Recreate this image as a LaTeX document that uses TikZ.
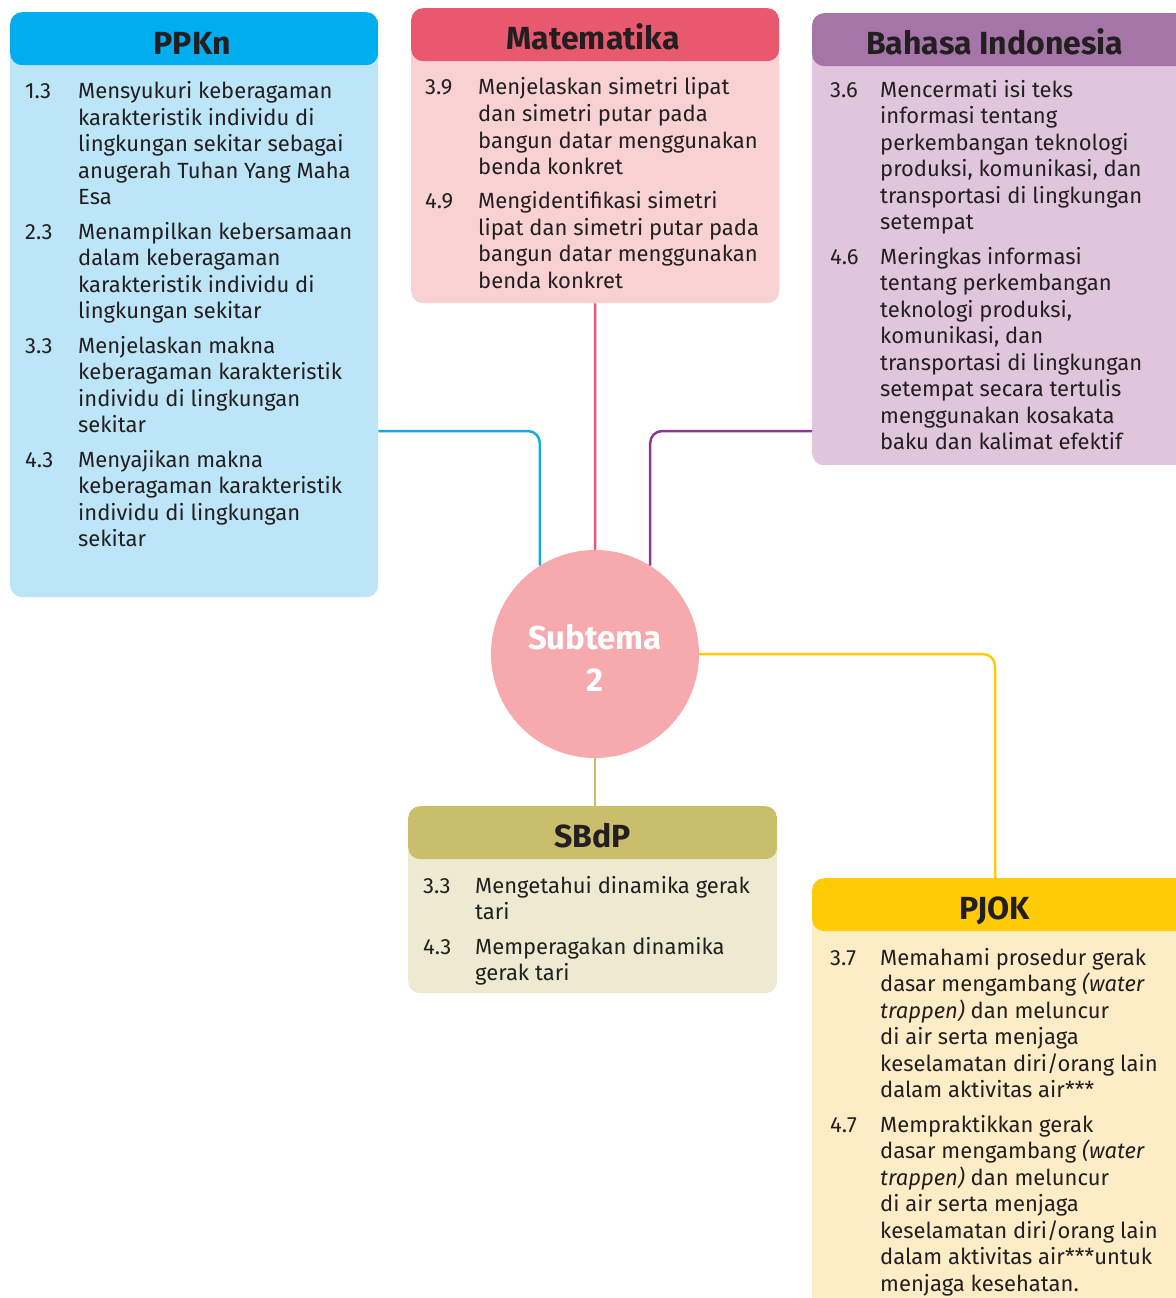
\documentclass[tikz,border=0pt]{standalone}
\usepackage{fontspec}
\setmainfont{Fira Sans}
\usetikzlibrary{positioning}

\definecolor{txt}{HTML}{231F20}
\definecolor{ppknHd}{HTML}{00AEEF}
\definecolor{ppknBd}{HTML}{BDE5F8}
\definecolor{ppknLn}{HTML}{1CA9E1}
\definecolor{mtkHd}{HTML}{E8596F}
\definecolor{mtkBd}{HTML}{F8D2D2}
\definecolor{bhsHd}{HTML}{A575A8}
\definecolor{bhsBd}{HTML}{E0C6DD}
\definecolor{bhsLn}{HTML}{8A3B8E}
\definecolor{sbdpHd}{HTML}{C8BE6B}
\definecolor{sbdpBd}{HTML}{EEEAD2}
\definecolor{pjokHd}{HTML}{FFCB05}
\definecolor{pjokBd}{HTML}{FDEDC7}
\definecolor{subFill}{HTML}{F6AAAD}

\begin{document}
\begin{tikzpicture}[x=1pt,y=-1pt,
subject/.style 2 args={fill=#2,rounded corners=12pt,anchor=north west,inner sep=0pt,
  path picture={\fill[#1] (path picture bounding box.north west) rectangle ([yshift=-53pt]path picture bounding box.north east);}},
subjtitle/.style={font=\fontsize{32}{36}\selectfont\bfseries,text=txt,anchor=base,inner sep=0pt},
kd/.style={font=\fontsize{22}{26.5}\selectfont,text=txt,anchor=base west,inner sep=0pt},
conn/.style={line width=2.5pt,rounded corners=12pt,draw=#1}]

\fill[white] (0,0) rectangle (1175,1298);
\useasboundingbox (0,0) rectangle (1175,1298);

% subject boxes
\node[subject={ppknHd}{ppknBd},minimum width=368pt,minimum height=585pt] (ppkn) at (10,12) {};
\node[subject={mtkHd}{mtkBd},minimum width=368pt,minimum height=295pt] (mtk) at (411,8) {};
\node[subject={bhsHd}{bhsBd},minimum width=375pt,minimum height=452pt] (bhs) at (812,13) {};
\node[subject={sbdpHd}{sbdpBd},minimum width=369pt,minimum height=187pt] (sbdp) at (408,806) {};
\node[subject={pjokHd}{pjokBd},minimum width=375pt,minimum height=440pt] (pjok) at (812,878) {};

% titles
\node[subjtitle] (ppknT) at ([xshift=-2pt,yshift=-43pt]ppkn.north) {PPKn};
\node[subjtitle] (mtkT) at ([xshift=-2pt,yshift=-42pt]mtk.north) {Matematika};
\node[subjtitle] (bhsT) at ([xshift=-5pt,yshift=-42pt]bhs.north) {Bahasa Indonesia};
\node[subjtitle] (sbdpT) at ([yshift=-41pt]sbdp.north) {SBdP};
\node[subjtitle] (pjokT) at ([xshift=-5pt,yshift=-41pt]pjok.north) {PJOK};

% kompetensi dasar
\node[kd] (ppknK) at ([xshift=15pt,yshift=-87pt]ppkn.north west) {\begin{tabular}[t]{@{}p{53pt}@{}l@{}}
1.3 & Mensyukuri keberagaman\\
 & karakteristik individu di\\
 & lingkungan sekitar sebagai\\
 & anugerah Tuhan Yang Maha\\
 & Esa\\[8pt]
2.3 & Menampilkan kebersamaan\\
 & dalam keberagaman\\
 & karakteristik individu di\\
 & lingkungan sekitar\\[8pt]
3.3 & Menjelaskan makna\\
 & keberagaman karakteristik\\
 & individu di lingkungan\\
 & sekitar\\[8pt]
4.3 & Menyajikan makna\\
 & keberagaman karakteristik\\
 & individu di lingkungan\\
 & sekitar
\end{tabular}};

\node[kd] (mtkK) at ([xshift=14pt,yshift=-87pt]mtk.north west) {\begin{tabular}[t]{@{}p{53pt}@{}l@{}}
3.9 & Menjelaskan simetri lipat\\
 & dan simetri putar pada\\
 & bangun datar menggunakan\\
 & benda konkret\\[8pt]
4.9 & Mengidentifikasi simetri\\
 & lipat dan simetri putar pada\\
 & bangun datar menggunakan\\
 & benda konkret
\end{tabular}};

\node[kd] (bhsK) at ([xshift=18pt,yshift=-84pt]bhs.north west) {\begin{tabular}[t]{@{}p{50pt}@{}l@{}}
3.6 & Mencermati isi teks\\
 & informasi tentang\\
 & perkembangan teknologi\\
 & produksi, komunikasi, dan\\
 & transportasi di lingkungan\\
 & setempat\\[8pt]
4.6 & Meringkas informasi\\
 & tentang perkembangan\\
 & teknologi produksi,\\
 & komunikasi, dan\\
 & transportasi di lingkungan\\
 & setempat secara tertulis\\
 & menggunakan kosakata\\
 & baku dan kalimat efektif
\end{tabular}};

\node[kd] (sbdpK) at ([xshift=15pt,yshift=-87pt]sbdp.north west) {\begin{tabular}[t]{@{}p{52pt}@{}l@{}}
3.3 & Mengetahui dinamika gerak\\
 & tari\\[8pt]
4.3 & Memperagakan dinamika\\
 & gerak tari
\end{tabular}};

\node[kd] (pjokK) at ([xshift=18pt,yshift=-87pt]pjok.north west) {\begin{tabular}[t]{@{}p{50pt}@{}l@{}}
3.7 & Memahami prosedur gerak\\
 & dasar mengambang \textit{(water}\\
 & \textit{trappen)} dan meluncur\\
 & di air serta menjaga\\
 & keselamatan diri/orang lain\\
 & dalam aktivitas air***\\[8pt]
4.7 & Mempraktikkan gerak\\
 & dasar mengambang \textit{(water}\\
 & \textit{trappen)} dan meluncur\\
 & di air serta menjaga\\
 & keselamatan diri/orang lain\\
 & dalam aktivitas air***untuk\\
 & menjaga kesehatan.
\end{tabular}};

% subtema
\node[circle,fill=subFill,minimum size=208pt,inner sep=0pt] (sub) at (595,654) {};
\node[align=center,text=white,font=\fontsize{33}{42}\selectfont\bfseries] (subT)
  at ([yshift=-4pt]sub.center) {Subtema\\2};

% connectors
\draw[conn=ppknLn] ([yshift=-419pt]ppkn.north east) -| (sub.122);
\draw[conn=mtkHd] (mtk.south) -- (sub.north);
\draw[conn=bhsLn] ([yshift=-418pt]bhs.north west) -| (sub.58);
\draw[conn=pjokHd] (sub.east) -| ([xshift=183pt]pjok.north west);
\draw[conn=sbdpHd] (sub.south) -- (sub.south |- sbdp.north);
\end{tikzpicture}
\end{document}
